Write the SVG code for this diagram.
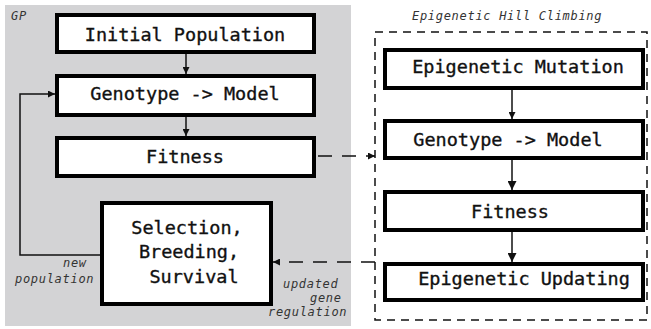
<svg xmlns="http://www.w3.org/2000/svg" width="651" height="329" viewBox="0 0 651 329">
<style>
.box{fill:#fff;stroke:#000;stroke-width:4}
.bt{font-family:"DejaVu Sans Mono",monospace;font-size:18.5px;fill:#111;stroke:#111;stroke-width:0.35;text-anchor:middle}
.lbl{font-family:"DejaVu Sans Mono",monospace;font-style:italic;font-size:12px;letter-spacing:0.7px;fill:#333}
.ln{fill:none;stroke:#111;stroke-width:1.5}
.dl{fill:none;stroke:#111;stroke-width:1.5;stroke-dasharray:14 10}
</style>
<defs>
<marker id="ah" viewBox="0 0 10 10" refX="10" refY="5" markerWidth="7" markerHeight="7" markerUnits="userSpaceOnUse" orient="auto">
<path d="M0,0 L10,5 L0,10 z" fill="#111"/>
</marker>
<marker id="ahb" viewBox="0 0 10 10" refX="10" refY="5" markerWidth="9" markerHeight="9" markerUnits="userSpaceOnUse" orient="auto">
<path d="M0,0 L10,5 L0,10 z" fill="#111"/>
</marker>
</defs>
<rect x="5" y="5" width="346" height="321" fill="#d3d3d5"/>
<text class="lbl" x="11" y="20">GP</text>
<rect x="375" y="32" width="272" height="288" fill="none" stroke="#111" stroke-width="1.5" stroke-dasharray="8 6"/>
<text class="lbl" x="412" y="20">Epigenetic Hill Climbing</text>
<g id="connectors">
<line class="ln" x1="186" y1="54" x2="186" y2="74" marker-end="url(#ah)"/>
<line class="ln" x1="186" y1="117" x2="186" y2="136" marker-end="url(#ah)"/>
<polyline class="ln" points="100,255 20,255 20,94 55,94" marker-end="url(#ah)"/>
<line class="dl" x1="318" y1="156" x2="375" y2="156" marker-end="url(#ah)"/>
<line class="dl" x1="375" y1="262" x2="273" y2="262" marker-end="url(#ah)"/>
<line class="ln" x1="512" y1="90" x2="512" y2="119" marker-end="url(#ah)"/>
<line class="ln" x1="512" y1="160" x2="512" y2="190" marker-end="url(#ahb)"/>
<line class="ln" x1="512" y1="232" x2="512" y2="262" marker-end="url(#ahb)"/>
<text class="lbl" x="63" y="267">new</text>
<text class="lbl" x="15" y="283">population</text>
<text class="lbl" x="283" y="288">updated</text>
<text class="lbl" x="310" y="302">gene</text>
<text class="lbl" x="268" y="316">regulation</text>
</g>
<g id="initial-population">
<rect class="box" x="57" y="15" width="257" height="37"/>
<text class="bt" x="185" y="41">Initial Population</text>
</g>
<g id="genotype-model-gp">
<rect class="box" x="57" y="76" width="257" height="39"/>
<text class="bt" x="185" y="100">Genotype -&gt; Model</text>
</g>
<g id="fitness-gp">
<rect class="box" x="57" y="138" width="257" height="38"/>
<text class="bt" x="185" y="163">Fitness</text>
</g>
<g id="selection">
<rect class="box" x="102" y="203" width="169" height="101"/>
<text class="bt" x="187" y="234">Selection,</text>
<text class="bt" x="189" y="258">Breeding,</text>
<text class="bt" x="194" y="283">Survival</text>
</g>
<g id="epigenetic-mutation">
<rect class="box" x="385" y="50" width="258" height="38"/>
<text class="bt" x="518" y="73">Epigenetic Mutation</text>
</g>
<g id="genotype-model-ehc">
<rect class="box" x="385" y="121" width="258" height="37"/>
<text class="bt" x="508" y="146">Genotype -&gt; Model</text>
</g>
<g id="fitness-ehc">
<rect class="box" x="385" y="192" width="258" height="38"/>
<text class="bt" x="510" y="218">Fitness</text>
</g>
<g id="epigenetic-updating">
<rect class="box" x="385" y="264" width="258" height="36"/>
<text class="bt" x="524" y="285">Epigenetic Updating</text>
</g>
</svg>
